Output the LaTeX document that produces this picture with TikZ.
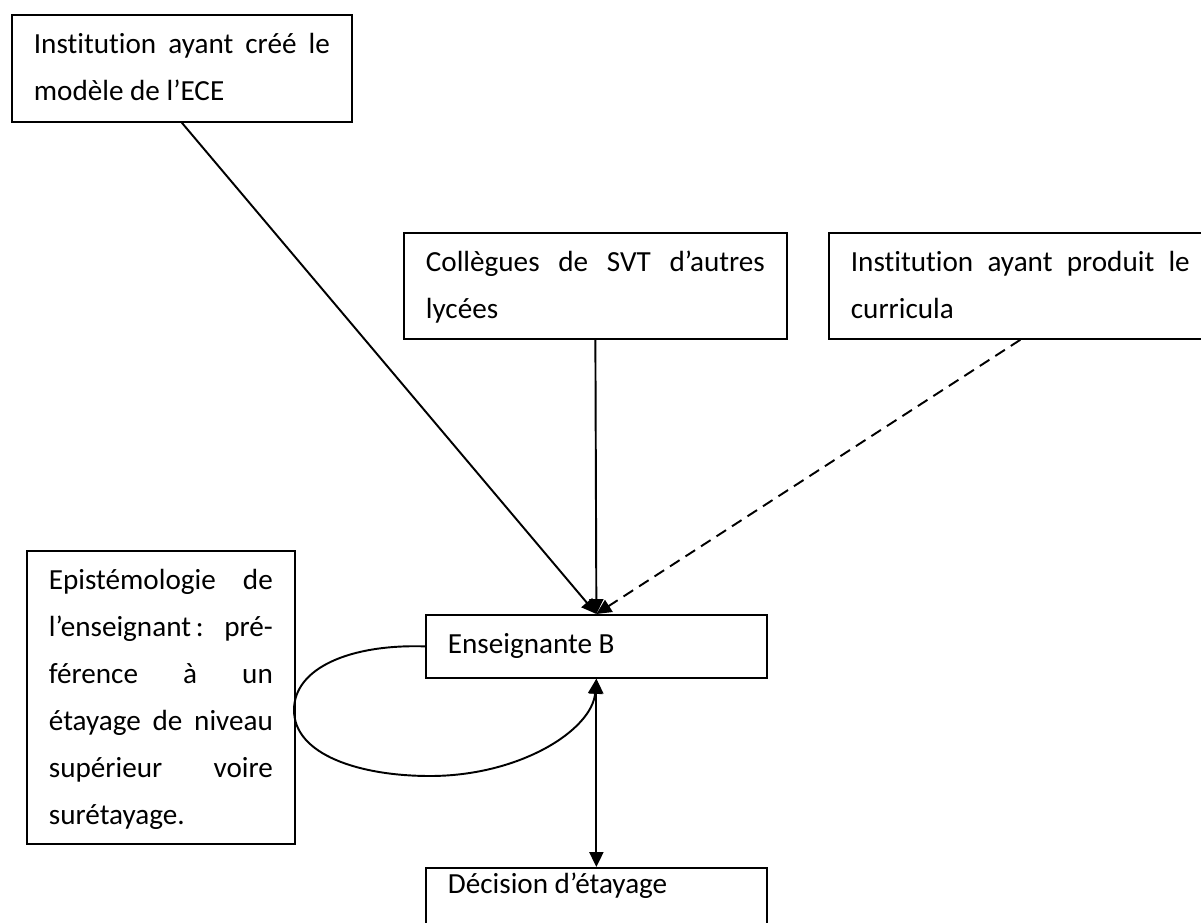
\documentclass[tikz,border=0pt]{standalone}
\usepackage{fontspec}
\setmainfont{Carlito}[Ligatures=NoCommon]
\usetikzlibrary{arrows.meta}
\newlength\px
\setlength\px{0.02cm}

\begin{document}
\begin{tikzpicture}[x=0.02cm,y=-0.02cm,
    cadre/.style={draw,line width=1pt,anchor=north west,inner xsep=22\px,inner ysep=0pt,
      align=justify,text height=39\px,font=\fontsize{16.6}{26.7}\selectfont},
    fleche/.style={line width=1.1pt,-{Triangle[length=8.5pt,width=8pt]}},
    fleches/.style={line width=1.1pt,{Triangle[length=8.5pt,width=8pt]}-{Triangle[length=8.5pt,width=8pt]}}]
  \useasboundingbox (0,0) rectangle (1201,923);
  \clip (0,0) rectangle (1201,923);
  \node[cadre,text width=296\px,text depth=68\px] (inst) at (11,14)
    {Institution ayant créé le\linebreak modèle de l’ECE};
  \node[cadre,text width=339\px,text depth=67\px] (coll) at (403,232)
    {Collègues de SVT d’autres\linebreak lycées};
  \node[cadre,text width=339\px,text depth=67\px] (curr) at (828,232)
    {Institution ayant produit le\linebreak curricula};
  \node[cadre,text width=224\px,text depth=254\px] (epis) at (26,550)
    {Epistémologie de\linebreak l’enseignant\,: pré-\linebreak férence à un\linebreak étayage de niveau\linebreak supérieur voire\linebreak surétayage.};
  \node[cadre,text width=297\px,text depth=24\px] (ens) at (425,614) {Enseignante B};
  \node[cadre,text width=297\px,text height=26\px,text depth=50\px] (dec) at (425,867) {Décision d’étayage};
  \draw[fleche] (inst.south) -- (ens.north);
  \draw[fleche] (coll.south) -- (ens.north);
  \draw[fleche,dash pattern=on 6.5pt off 4pt] (curr.south) -- (ens.north);
  \draw[fleches] (ens.south) -- (dec.north);
  \draw[fleche] (ens.west) .. controls (350,644) and (294,668) .. (294,710)
    .. controls (294,755) and (360,776) .. (430,776)
    .. controls (520,776) and (592,730) .. (ens.south);
\end{tikzpicture}
\end{document}
